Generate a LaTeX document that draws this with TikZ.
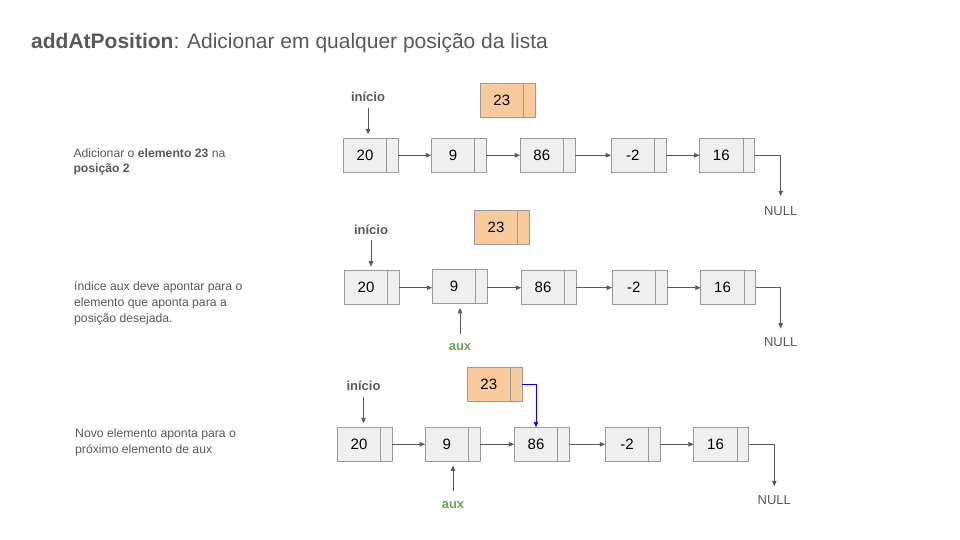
\documentclass[tikz,border=0pt]{standalone}
\usepackage{fontspec}
\setmainfont{Liberation Sans}
\usetikzlibrary{arrows.meta}
\definecolor{txtgray}{HTML}{595959}
\definecolor{boxgray}{HTML}{999999}
\definecolor{cellfill}{HTML}{EFEFEF}
\definecolor{newfill}{HTML}{F9CB9C}
\definecolor{auxgreen}{HTML}{6AA84F}
\definecolor{ptrblue}{HTML}{0000FF}
\begin{document}
\begin{tikzpicture}[x=1pt,y=-1pt,
  cell/.style={draw=boxgray,fill=cellfill,line width=1pt,minimum width=43.5pt,minimum height=34pt,inner sep=0pt,outer sep=0pt,font=\fontsize{15}{17}\selectfont,text=black},
  ptr/.style={cell,minimum width=11.5pt,anchor=west},
  newcell/.style={cell,fill=newfill},
  newptr/.style={ptr,fill=newfill},
  arr/.style={draw=txtgray,line width=0.9pt,-{Triangle[length=5.5pt,width=4.5pt]}},
  bluearr/.style={draw=ptrblue,line width=0.9pt,-{Triangle[length=5.5pt,width=4.5pt]}},
  lab/.style={font=\bfseries\fontsize{13}{15}\selectfont,text=txtgray,inner sep=0pt},
  auxlab/.style={font=\bfseries\fontsize{13}{15}\selectfont,text=auxgreen,inner sep=0pt},
  nulllab/.style={font=\fontsize{13}{15}\selectfont,text=txtgray,inner sep=0pt},
  desc/.style={font=\fontsize{12.2}{15.7}\selectfont,text=txtgray,align=left,inner sep=0pt,anchor=base west},
]
\useasboundingbox (0,0) rectangle (960,540);
\fill[white] (0,0) rectangle (960,540);

% title
\node[anchor=base west,inner sep=0pt,text=txtgray,font=\fontsize{21}{25}\selectfont] (title) at (31,49) {\textbf{addAtPosition}: Adicionar em qualquer posição da lista};

% descriptions (anchor = baseline of last line)
\node[desc] (d1) at (73.3,173) {Adicionar o \textbf{elemento 23} na\\\textbf{posição 2}};
\node[desc] (d2) at (74,322) {índice aux deve apontar para o\\elemento que aponta para a\\posição desejada.};
\node[desc] (d3) at (75,453) {Novo elemento aponta para o\\próximo elemento de aux};

% ---------- row 1 ----------
\node[newcell] (b1) at (501.8,100.8) {23};
\node[newptr] (b1p) at (b1.east) {};
\node[cell] (a11) at (365,155.3) {20}; \node[ptr] (a11p) at (a11.east) {};
\node[cell] (a12) at (453,155.3) {9};  \node[ptr] (a12p) at (a12.east) {};
\node[cell] (a13) at (541.8,155.3) {86}; \node[ptr] (a13p) at (a13.east) {};
\node[cell] (a14) at (632.8,155.3) {-2}; \node[ptr] (a14p) at (a14.east) {};
\node[cell] (a15) at (721.3,155.3) {16}; \node[ptr] (a15p) at (a15.east) {};
\draw[arr] (a11p.east) -- (a12.west);
\draw[arr] (a12p.east) -- (a13.west);
\draw[arr] (a13p.east) -- (a14.west);
\draw[arr] (a14p.east) -- (a15.west);
\node[lab] (i1) at (368,96.7) {início};
\draw[arr,shorten <=6pt,shorten >=4pt] (i1.south) -- (i1.south |- a11.north);
\node[nulllab] (n1) at (780.7,211) {NULL};
\draw[arr,shorten >=10pt] (a15p.east) -| (n1.north);

% ---------- row 2 ----------
\node[newcell] (b2) at (496,227.3) {23};
\node[newptr] (b2p) at (b2.east) {};
\node[cell] (a21) at (366,287.7) {20}; \node[ptr] (a21p) at (a21.east) {};
\node[cell] (a22) at (454,286.8) {9};  \node[ptr] (a22p) at (a22.east) {};
\node[cell] (a23) at (543,287.7) {86}; \node[ptr] (a23p) at (a23.east) {};
\node[cell] (a24) at (633.8,287.7) {-2}; \node[ptr] (a24p) at (a24.east) {};
\node[cell] (a25) at (722.5,287.7) {16}; \node[ptr] (a25p) at (a25.east) {};
\draw[arr] (a21p.east) -- (a22.west |- a21p.east);
\draw[arr] (a22p.east |- a23.west) -- (a23.west);
\draw[arr] (a23p.east) -- (a24.west);
\draw[arr] (a24p.east) -- (a25.west);
\node[lab] (i2) at (371,229.3) {início};
\draw[arr,shorten <=6pt,shorten >=4pt] (i2.south) -- (i2.south |- a21.north);
\node[auxlab] (x2) at (460,346.7) {aux};
\draw[arr,shorten <=9pt,shorten >=4pt] (x2.north) -- (x2.north |- a22.south);
\node[nulllab] (n2) at (780.7,342.3) {NULL};
\draw[arr,shorten >=9pt] (a25p.east) -| (n2.north);

% ---------- row 3 ----------
\node[newcell] (b3) at (488.8,384.2) {23};
\node[newptr] (b3p) at (b3.east) {};
\node[cell] (a31) at (359,444.3) {20}; \node[ptr] (a31p) at (a31.east) {};
\node[cell] (a32) at (446.8,444.3) {9};  \node[ptr] (a32p) at (a32.east) {};
\node[cell] (a33) at (536,444.3) {86}; \node[ptr] (a33p) at (a33.east) {};
\node[cell] (a34) at (627,444.3) {-2}; \node[ptr] (a34p) at (a34.east) {};
\node[cell] (a35) at (715.5,444.3) {16}; \node[ptr] (a35p) at (a35.east) {};
\draw[arr] (a31p.east) -- (a32.west);
\draw[arr] (a32p.east) -- (a33.west);
\draw[arr] (a33p.east) -- (a34.west);
\draw[arr] (a34p.east) -- (a35.west);
\draw[bluearr] (b3p.east) -| (a33.north);
\node[lab] (i3) at (363.5,386) {início};
\draw[arr,shorten <=6pt,shorten >=4pt] (i3.south) -- (i3.south |- a31.north);
\node[auxlab] (x3) at (453,505) {aux};
\draw[arr,shorten <=10pt,shorten >=4pt] (x3.north) -- (x3.north |- a32.south);
\node[nulllab] (n3) at (774.3,500) {NULL};
\draw[arr,shorten >=9pt] (a35p.east) -| (n3.north);
\end{tikzpicture}
\end{document}
